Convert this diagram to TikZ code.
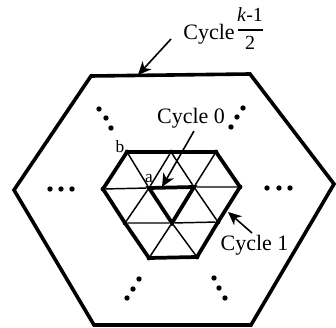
\documentclass[tikz,border=0pt]{standalone}
\usepackage{fontspec}
\setmainfont{Liberation Serif}
\usetikzlibrary{arrows.meta}
\tikzset{
 thinl/.style={line width=1.1pt},
 thickl/.style={line width=2.8pt,line join=miter},
 outerl/.style={line width=2.7pt,line join=miter},
 arrowl/.style={line width=1.2pt,-{Stealth[length=10pt,width=9pt,inset=3pt]}},
 vtx/.style={circle,fill=black,inner sep=0pt,minimum size=3.6pt},
 ell/.style={circle,fill=black,inner sep=0pt,minimum size=4pt},
 lab/.style={inner sep=0pt,font=\fontsize{16.5}{18}\selectfont,anchor=base},
 sm/.style={inner sep=0pt,font=\fontsize{13}{14}\selectfont,anchor=base}
}
\begin{document}
\begin{tikzpicture}[x=0.75pt,y=-0.75pt]
\useasboundingbox (0,0) rectangle (336,328);
% outer hexagon
\coordinate (o1) at (91,76);\coordinate (o2) at (250,74);\coordinate (o3) at (334,184);
\coordinate (o4) at (251,325);\coordinate (o5) at (94,325);\coordinate (o6) at (14,190);
\draw[outerl] (o1)--(o2)--(o3)--(o4)--(o5)--(o6)--cycle;
% lattice vertices
\node[vtx] (b) at (127,152) {};
\node[vtx] (t) at (171,152) {};
\node[vtx] (r) at (216,152) {};
\node[vtx] (l) at (103,189) {};
\node[vtx] (a) at (149,188) {};
\node[vtx] (c) at (194,187) {};
\node[vtx] (e) at (240,187) {};
\node[vtx] (f) at (125,223) {};
\node[vtx] (g) at (172,223) {};
\node[vtx] (h) at (218,222) {};
\node[vtx] (i) at (149,258) {};
\node[vtx] (j) at (197,257) {};
% thin edges
\draw[thinl] (l)--(a) (c)--(e) (f)--(g)--(h)
 (b)--(a)--(t)--(c)--(r) (f)--(a) (c)--(h) (g)--(i) (g)--(j);
% cycles
\draw[thickl] (b.center)--(r.center)--(e.center)--(h.center)--(j.center)--(i.center)--(f.center)--(l.center)--cycle;
\draw[thickl] (a.center)--(c.center)--(g.center)--cycle;
% ellipses
\foreach \n/\x/\y in {p1/99/109,p2/106/118,p3/111/128,q1/243/108,q2/237/117,q3/231/127,
 s1/139/279,s2/133/289,s3/127/298,u1/214/278,u2/219/288,u3/225/298,
 v1/50/189,v2/61/189,v3/72/189,w1/267/188,w2/279/188,w3/290/188}
 \node[ell] (\n) at (\x,\y) {};
% labels
\node[lab] (c0) at (191,124) {Cycle 0};
\node[lab] (c1) at (254.5,250) {Cycle 1};
\node[lab] (ck) at (209,40) {Cycle};
\node[inner sep=0pt,anchor=base,font=\fontsize{15}{18}\selectfont] (kn) at (250,22) {\textit{k}-1};
\node[inner sep=0pt,anchor=base,font=\fontsize{15}{18}\selectfont] (kd) at (250,50) {2};
\draw[line width=1pt] (238,30)--(263,30);
\node[sm] (la) at (149,183) {a};
\node[sm] (lb) at (120,152) {b};
% arrows
\coordinate (a0) at (194,131);\coordinate (a0t) at (162,187);
\coordinate (a1) at (252,233);\coordinate (a1t) at (228,212);
\coordinate (ak) at (171,39);\coordinate (akt) at (138,75);
\draw[arrowl] (a0)--(a0t);
\draw[arrowl] (a1)--(a1t);
\draw[arrowl] (ak)--(akt);
\end{tikzpicture}
\end{document}
